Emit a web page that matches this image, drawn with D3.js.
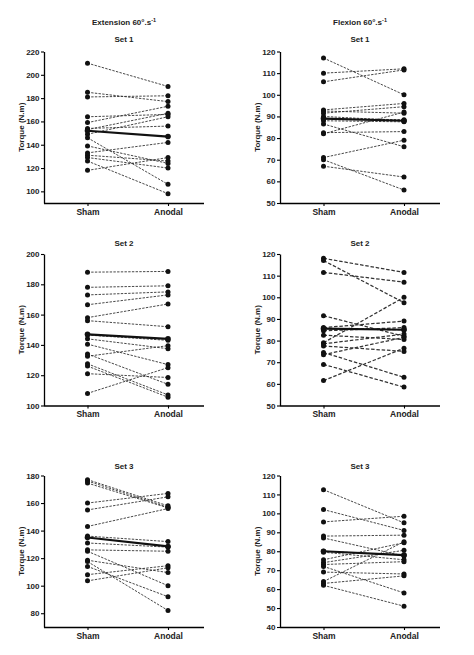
<!DOCTYPE html>
<html>
<head>
<meta charset="utf-8">
<script src="https://cdn.jsdelivr.net/npm/d3@7"></script>
<style>
  body { margin: 0; background: #fff; }
  svg { display: block; }
  text { font-family: Arial, "Liberation Sans", sans-serif; }
</style>
</head>
<body>
<svg></svg>
<script>
let width = 474, height = 655;

// Data (15 subjects per panel)
const groups = ["Sham", "Anodal"];

const ext1Sham   = [210, 185, 181, 164, 159, 154, 153, 149, 146, 139, 133, 131, 129, 126, 118];
const ext1Anodal = [190, 177, 182, 166, 173, 156, 167, 164, 106, 124, 142, 126, 120, 98, 129];
const ext1Mean   = [152, 147];
const ext1Domain = [90, 220];
const ext1Ticks  = [100, 120, 140, 160, 180, 200, 220];

const flx1Sham   = [117, 110, 106, 93, 92.5, 91.5, 90, 89, 88, 86.5, 82.5, 82, 71, 70, 67];
const flx1Anodal = [100, 112, 111.5, 96, 91.5, 94.5, 88, 88.5, 87.5, 76, 83, 92, 79, 56, 62];
const flx1Mean   = [89, 88];
const flx1Domain = [50, 120];
const flx1Ticks  = [50, 60, 70, 80, 90, 100, 110, 120];

const ext2Sham   = [188, 178, 173, 166.5, 158, 156, 146.5, 144, 140.5, 134, 132.5, 127.5, 126, 121, 108];
const ext2Anodal = [188.5, 179, 175, 173, 167, 152, 143, 137.5, 127, 114, 139.5, 107, 105.5, 118.5, 125];
const ext2Mean   = [147, 144];
const ext2Domain = [100, 200];
const ext2Ticks  = [100, 120, 140, 160, 180, 200];

const flx2Sham   = [118, 117, 111.5, 91.5, 86, 85.5, 84.5, 82.5, 79, 78.5, 77.5, 74.5, 73.5, 69, 61.5];
const flx2Anodal = [111.5, 97.5, 107, 82, 89, 85, 86, 80.5, 100, 83, 75, 63, 81.5, 58.5, 76.5];
const flx2Mean   = [85.5, 85];
const flx2Domain = [50, 120];
const flx2Ticks  = [50, 60, 70, 80, 90, 100, 110, 120];

const ext3Sham   = [177, 176, 174.5, 160, 155, 143, 136, 131, 126, 125, 118.5, 117.5, 114, 108, 103.5];
const ext3Anodal = [158, 157, 156.5, 167, 164.5, 156, 132, 128, 125, 100, 109.5, 82, 92, 114.5, 113];
const ext3Mean   = [135, 128.5];
const ext3Domain = [70, 180];
const ext3Ticks  = [80, 100, 120, 140, 160, 180];

const flx3Sham   = [112.5, 102, 95.5, 88, 87, 80, 79.5, 75.5, 74, 73, 72, 69, 64, 63, 62];
const flx3Anodal = [95, 91, 98.5, 88.5, 77.5, 78, 75.5, 84.5, 80.5, 74.5, 58, 68, 85, 67, 51];
const flx3Mean   = [80, 78];
const flx3Domain = [40, 120];
const flx3Ticks  = [40, 50, 60, 70, 80, 90, 100, 110, 120];

const columnTitles = ["Extension 60°.s", "Flexion 60°.s"];
const setTitles = ["Set 1", "Set 2", "Set 3"];

let panels = [
    {row: 0, col: 0, sham: ext1Sham, anodal: ext1Anodal, mean: ext1Mean, domain: ext1Domain, ticks: ext1Ticks},
    {row: 0, col: 1, sham: flx1Sham, anodal: flx1Anodal, mean: flx1Mean, domain: flx1Domain, ticks: flx1Ticks},
    {row: 1, col: 0, sham: ext2Sham, anodal: ext2Anodal, mean: ext2Mean, domain: ext2Domain, ticks: ext2Ticks},
    {row: 1, col: 1, sham: flx2Sham, anodal: flx2Anodal, mean: flx2Mean, domain: flx2Domain, ticks: flx2Ticks},
    {row: 2, col: 0, sham: ext3Sham, anodal: ext3Anodal, mean: ext3Mean, domain: ext3Domain, ticks: ext3Ticks},
    {row: 2, col: 1, sham: flx3Sham, anodal: flx3Anodal, mean: flx3Mean, domain: flx3Domain, ticks: flx3Ticks}
];

let svg = d3.select("svg")
    .attr("width", width)
    .attr("height", height)
    .attr("viewBox", "0 0 " + width + " " + height);

// layout
const colX = [44, 280];
const rowTop = [51.5, 254, 475.5];
const plotW = 160, plotH = 151.5;

// Sham / Anodal positions along the x axis
let x = d3.scalePoint()
    .domain(groups)
    .range([43.5, 124]);

let line = d3.line()
    .x(d => x(d[0]))
    .y(d => d[1]);

panels.forEach((p, i) => {
    let g = svg.append("g")
        .attr("transform", `translate(${colX[p.col]}, ${rowTop[p.row]})`);

    let y = d3.scaleLinear()
        .domain(p.domain)
        .range([plotH, 0]);

    // column header only on the top row
    if (p.row === 0) {
        let t = g.append("text")
            .attr("x", plotW / 2)
            .attr("y", -27)
            .attr("text-anchor", "middle")
            .style("font-size", "8px")
            .style("font-weight", "bold")
            .style("fill", "#222")
            .text(columnTitles[p.col]);
        t.append("tspan")
            .attr("dy", -3)
            .style("font-size", "5.5px")
            .text("-1");
    }

    g.append("text")
        .attr("x", plotW / 2)
        .attr("y", p.row === 0 ? -9.5 : (p.row === 1 ? -8 : -6.5))
        .attr("text-anchor", "middle")
        .style("font-size", "8px")
        .style("font-weight", "bold")
        .style("fill", "#222")
        .text(setTitles[p.row]);

    // y axis
    g.append("g")
        .call(d3.axisLeft(y).tickValues(p.ticks).tickSize(3).tickPadding(1.5).tickSizeOuter(0))
        .call(a => a.select(".domain").attr("stroke-width", 1.3))
        .call(a => a.selectAll(".tick line").attr("stroke-width", 1.1))
        .call(a => a.selectAll("text")
            .style("font-size", "8px")
            .style("font-weight", "bold")
            .style("fill", "#222"));

    // x axis
    g.append("g")
        .attr("transform", `translate(0, ${plotH})`)
        .call(d3.axisBottom(x).tickSize(3).tickPadding(2.5).tickSizeOuter(0))
        .call(a => a.select(".domain").attr("d", `M0,0.5H${plotW}`).attr("stroke-width", 1.3))
        .call(a => a.selectAll(".tick line").attr("stroke-width", 1.1))
        .call(a => a.selectAll("text")
            .style("font-size", "8.5px")
            .style("font-weight", "bold")
            .style("fill", "#222"));

    g.append("text")
        .attr("transform", `translate(-23, ${plotH / 2}) rotate(-90)`)
        .attr("text-anchor", "middle")
        .attr("dy", "0.35em")
        .style("font-size", "8px")
        .style("font-weight", "bold")
        .style("fill", "#222")
        .text("Torque (N.m)");

    // individual subjects
    let pairs = p.sham.map((s, k) => [[groups[0], y(s)], [groups[1], y(p.anodal[k])]]);
    let heavy = (i === 3);

    g.append("g")
        .selectAll("path")
        .data(pairs)
        .enter()
        .append("path")
        .attr("d", d => line(d))
        .attr("fill", "none")
        .attr("stroke", "#333")
        .attr("stroke-width", heavy ? 1.25 : 0.9)
        .attr("stroke-dasharray", heavy ? "3.5,1.8" : "2.4,1.3");

    // group mean
    g.append("path")
        .attr("d", line([[groups[0], y(p.mean[0])], [groups[1], y(p.mean[1])]]))
        .attr("fill", "none")
        .attr("stroke", "#111")
        .attr("stroke-width", 2.2);

    let dots = [];
    p.sham.forEach(v => dots.push([groups[0], v]));
    p.anodal.forEach(v => dots.push([groups[1], v]));

    g.append("g")
        .selectAll("circle")
        .data(dots)
        .enter()
        .append("circle")
        .attr("cx", d => x(d[0]))
        .attr("cy", d => y(d[1]))
        .attr("r", 2.5)
        .attr("fill", "#111");

    g.append("g")
        .selectAll("circle")
        .data(groups)
        .enter()
        .append("circle")
        .attr("cx", d => x(d))
        .attr("cy", (d, k) => y(p.mean[k]))
        .attr("r", 2.8)
        .attr("fill", "#111");
});
</script>
</body>
</html>
